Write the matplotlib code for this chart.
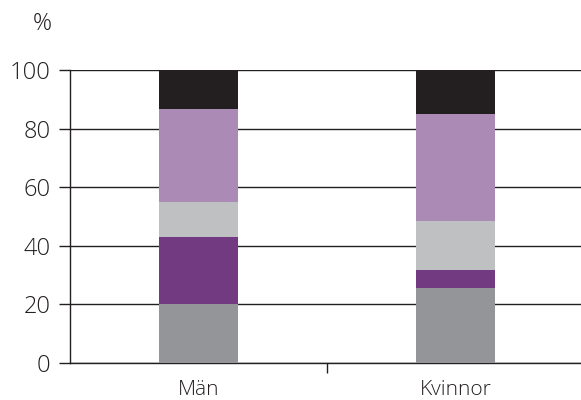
import matplotlib
matplotlib.use('Agg')
import matplotlib.pyplot as plt

# Data
kategorier = ['Män', 'Kvinnor']
serie1 = [20.1, 25.5]   # grå
serie2 = [22.9, 6.1]    # mörklila
serie3 = [11.8, 16.9]   # ljusgrå
serie4 = [31.8, 36.5]   # ljuslila
serie5 = [13.4, 15.0]   # svart
farger = ['#939598', '#713a81', '#bfc0c1', '#ab8bb6', '#231f20']

plt.rcParams['font.family'] = ['Open Sans', 'DejaVu Sans']
plt.rcParams['font.weight'] = 'light'

fig = plt.figure(figsize=(5.81, 4.0), dpi=100)
ax = fig.add_axes([0.1205, 0.0925, 0.885, 0.7325])

pos = [0.5, 1.5]
botten = [0, 0]
for serie, farg in zip([serie1, serie2, serie3, serie4, serie5], farger):
    ax.bar(pos, serie, width=0.31, bottom=botten, color=farg, zorder=3)
    botten = [b + s for b, s in zip(botten, serie)]

ax.set_xlim(0, 2)
ax.set_ylim(0, 100)
ax.set_yticks([0, 20, 40, 60, 80, 100])
ax.yaxis.grid(True, color='#231f20', linewidth=1.0, zorder=0)
ax.set_axisbelow(True)

ax.set_xticks([1], minor=False)
ax.set_xticklabels([''])
ax.set_xticks(pos, minor=True)
ax.set_xticklabels(kategorier, minor=True)
ax.tick_params(axis='x', which='minor', length=0, labelsize=15, pad=12, colors='#231f20')
ax.tick_params(axis='x', which='major', length=7, width=1, color='#231f20')
ax.tick_params(axis='y', length=8, width=1, labelsize=17, color='#231f20', labelcolor='#231f20', pad=6)

for s in ['top', 'right']:
    ax.spines[s].set_visible(False)
ax.spines['left'].set_color('#231f20')
ax.spines['bottom'].set_color('#231f20')
ax.spines['left'].set_linewidth(1.0)
ax.spines['bottom'].set_linewidth(1.0)

fig.text(0.072, 0.94, '%', fontsize=17, color='#231f20', ha='center', va='center')

fig.savefig('out.png', dpi=100)
